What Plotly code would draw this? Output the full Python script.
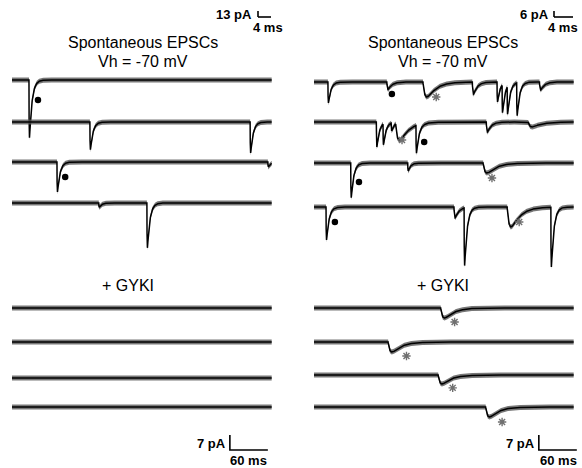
import numpy as np
import plotly.graph_objects as go

# ---- recording parameters -------------------------------------------------
SWEEP_MS = 410.0          # length of each displayed sweep (ms)
DT_MS = 0.2               # sample interval (ms)

# event kinetics (rise, decay) in ms, by event class
KINETICS = {
    "fast": (0.25, 4.0),
    "mid": (0.8, 6.0),
    "slow": (4.0, 14.0),
}

# ---- spontaneous EPSCs, control (sweep, onset ms, amplitude pA, class) ----
ctrl_left_events = [
    (0, 26.8, 27.0, "fast"),
    (1, 123.0, 13.0, "fast"),
    (1, 376.0, 14.5, "fast"),
    (2, 71.0, 14.0, "fast"),
    (2, 404.0, 2.3, "fast"),
    (3, 137.0, 2.0, "fast"),
    (3, 213.0, 21.0, "fast"),
]
ctrl_right_events = [
    (0, 22.0, 9.8, "fast"),
    (0, 115.0, 3.5, "mid"),
    (0, 172.0, 7.0, "slow"),
    (0, 250.0, 5.6, "mid"),
    (0, 289.0, 9.3, "fast"),
    (0, 297.0, 13.0, "fast"),
    (0, 305.0, 13.0, "fast"),
    (0, 320.0, 15.4, "fast"),
    (0, 356.0, 3.7, "mid"),
    (1, 98.5, 11.7, "fast"),
    (1, 109.0, 9.8, "fast"),
    (1, 122.0, 3.7, "fast"),
    (1, 129.0, 8.4, "slow"),
    (1, 161.0, 13.0, "fast"),
    (1, 272.0, 4.7, "mid"),
    (1, 338.0, 2.3, "slow"),
    (2, 58.0, 16.3, "fast"),
    (2, 148.0, 3.7, "fast"),
    (2, 267.0, 4.7, "slow"),
    (3, 19.0, 15.4, "fast"),
    (3, 221.0, 5.0, "mid"),
    (3, 237.0, 27.0, "fast"),
    (3, 305.0, 9.3, "slow"),
    (3, 374.0, 28.0, "fast"),
]

# ---- + GYKI ---------------------------------------------------------------
gyki_left_events = []
gyki_right_events = [
    (0, 200.0, 4.7, "slow"),
    (1, 117.0, 4.7, "slow"),
    (2, 196.0, 4.2, "slow"),
    (3, 271.0, 4.7, "slow"),
]

# ---- event labels (sweep, time ms, depth below baseline pA) --------------
ctrl_left_dots = [(0, 41.0, 9.3), (2, 84.0, 7.0)]
ctrl_right_dots = [(0, 123.0, 5.6), (1, 174.0, 9.3), (2, 71.0, 8.9), (3, 33.0, 7.0)]
ctrl_right_stars = [(0, 193.0, 7.0), (1, 139.0, 8.4), (2, 281.0, 7.0), (3, 324.0, 7.0)]
gyki_right_stars = [(0, 222.0, 6.5), (1, 146.0, 6.5), (2, 219.0, 6.0), (3, 297.0, 7.0)]

# ---- layout geometry --------------------------------------------------------
W, H = 582, 468
PA_PER_PX = 7.0 / 15.0
MS_PER_PX = 60.0 / 38.0
Y_RANGE = [-H * PA_PER_PX, 0.0]
X_RANGE_L = [-12 * MS_PER_PX, (291 - 12) * MS_PER_PX]
X_RANGE_R = [-23 * MS_PER_PX, (291 - 23) * MS_PER_PX]

# sweep baselines, pixels from the top of the figure
ROWS = {
    "ctrl_left": [80, 122, 162, 203],
    "ctrl_right": [82, 122, 163, 207],
    "gyki_left": [308, 342, 378, 407],
    "gyki_right": [308, 342, 375, 407],
}
BAND_PA = 2.5 * PA_PER_PX   # half-height of the baseline noise band


def baseline(px):
    return -px * PA_PER_PX


def sweep_current(events, sweep, t):
    i = np.zeros_like(t)
    for sw, onset, amp, kind in events:
        if sw != sweep:
            continue
        tr, td = KINETICS[kind]
        s = np.clip(t - onset, 0, None)
        k = np.where(t > onset, (1 - np.exp(-s / tr)) * np.exp(-s / td), 0.0)
        tpk = tr * np.log((tr + td) / tr)
        peak = (1 - np.exp(-tpk / tr)) * np.exp(-tpk / td)
        i -= amp * k / peak
    return i


t = np.arange(0.0, SWEEP_MS + DT_MS, DT_MS)
fig = go.Figure()

panels = [
    ("ctrl_left", ctrl_left_events, "x", "y"),
    ("ctrl_right", ctrl_right_events, "x2", "y2"),
    ("gyki_left", gyki_left_events, "x", "y"),
    ("gyki_right", gyki_right_events, "x2", "y2"),
]

for key, events, xa, ya in panels:
    for sweep, row_px in enumerate(ROWS[key]):
        y = baseline(row_px) + sweep_current(events, sweep, t)
        fig.add_trace(go.Scatter(x=t, y=y - BAND_PA, xaxis=xa, yaxis=ya, mode="lines",
                                 line=dict(width=0, color="rgba(0,0,0,0)"),
                                 hoverinfo="skip", showlegend=False))
        fig.add_trace(go.Scatter(x=t, y=y + BAND_PA, xaxis=xa, yaxis=ya, mode="lines",
                                 line=dict(width=0, color="rgba(0,0,0,0)"),
                                 fill="tonexty", fillcolor="rgba(85,85,85,0.8)",
                                 hoverinfo="skip", showlegend=False))
        fig.add_trace(go.Scatter(x=t, y=y, xaxis=xa, yaxis=ya, mode="lines",
                                 line=dict(width=1.5, color="black"),
                                 hoverinfo="skip", showlegend=False))


def add_labels(items, rows, xa, ya, symbol, color, size, lw):
    xs = [it[1] for it in items]
    ys = [baseline(rows[it[0]]) - it[2] for it in items]
    fig.add_trace(go.Scatter(x=xs, y=ys, xaxis=xa, yaxis=ya, mode="markers",
                             marker=dict(symbol=symbol, size=size, color=color,
                                         line=dict(width=lw, color=color)),
                             hoverinfo="skip", showlegend=False))


add_labels(ctrl_left_dots, ROWS["ctrl_left"], "x", "y", "circle", "black", 6.5, 0)
add_labels(ctrl_right_dots, ROWS["ctrl_right"], "x2", "y2", "circle", "black", 6.5, 0)
add_labels(ctrl_right_stars, ROWS["ctrl_right"], "x2", "y2", "asterisk-open", "#707070", 7, 1.4)
add_labels(gyki_right_stars, ROWS["gyki_right"], "x2", "y2", "asterisk-open", "#707070", 7, 1.4)

# ---- 7 pA / 60 ms calibration bars (data units) ---------------------------
CAL_PA, CAL_MS = 7.0, 60.0
cal_corners = [("x", "y", 344.0), ("x2", "y2", 355.0)]
for xa, ya, t0 in cal_corners:
    y0 = baseline(450)
    fig.add_trace(go.Scatter(x=[t0, t0, t0 + CAL_MS], y=[y0 + CAL_PA, y0, y0],
                             xaxis=xa, yaxis=ya, mode="lines",
                             line=dict(width=1.6, color="black"),
                             hoverinfo="skip", showlegend=False))


def px(xp, yp):
    return xp / W, 1 - yp / H


# ---- small calibration bars for the upper traces --------------------------
shapes = []
for xv, xh in [(258, 271), (554, 573)]:
    x0, y0 = px(xv, 11)
    x1, y1 = px(xv, 17)
    x2, _ = px(xh, 17)
    shapes.append(dict(type="line", xref="paper", yref="paper", x0=x0, y0=y0, x1=x1, y1=y1,
                       line=dict(color="black", width=1.6)))
    shapes.append(dict(type="line", xref="paper", yref="paper", x0=x1, y0=y1, x1=x2, y1=y1,
                       line=dict(color="black", width=1.6)))

FONT = "Liberation Sans, Arial, sans-serif"
annotations = []


def label(text, xp, yp, size, bold=False, xanchor="center"):
    x, y = px(xp, yp)
    annotations.append(dict(text=f"<b>{text}</b>" if bold else text, x=x, y=y,
                            xref="paper", yref="paper", xanchor=xanchor, yanchor="middle",
                            showarrow=False, font=dict(family=FONT, size=size, color="black")))


for cx in (143, 443):
    label("Spontaneous EPSCs", cx, 42, 16)
    label("Vh = -70 mV", cx, 62, 16)
label("+ GYKI", 128, 285, 16)
label("+ GYKI", 443, 285, 16)
label("13 pA", 254, 14, 13, True, "right")
label("4 ms", 251, 27, 13, True, "left")
label("6 pA", 551, 14, 13, True, "right")
label("4 ms", 580, 27, 13, True, "right")
label("7 pA", 228, 443, 13, True, "right")
label("7 pA", 537, 443, 13, True, "right")
label("60 ms", 248, 460, 13, True)
label("60 ms", 558, 460, 13, True)

axis_off = dict(visible=False, fixedrange=True)
fig.update_layout(
    width=W, height=H,
    margin=dict(l=0, r=0, t=0, b=0),
    paper_bgcolor="white", plot_bgcolor="white",
    showlegend=False,
    xaxis=dict(domain=[0, 0.5], range=X_RANGE_L, **axis_off),
    xaxis2=dict(domain=[0.5, 1], range=X_RANGE_R, **axis_off),
    yaxis=dict(domain=[0, 1], range=Y_RANGE, **axis_off),
    yaxis2=dict(domain=[0, 1], range=Y_RANGE, anchor="x2", **axis_off),
    shapes=shapes,
    annotations=annotations,
)

fig.write_html("out.html")
